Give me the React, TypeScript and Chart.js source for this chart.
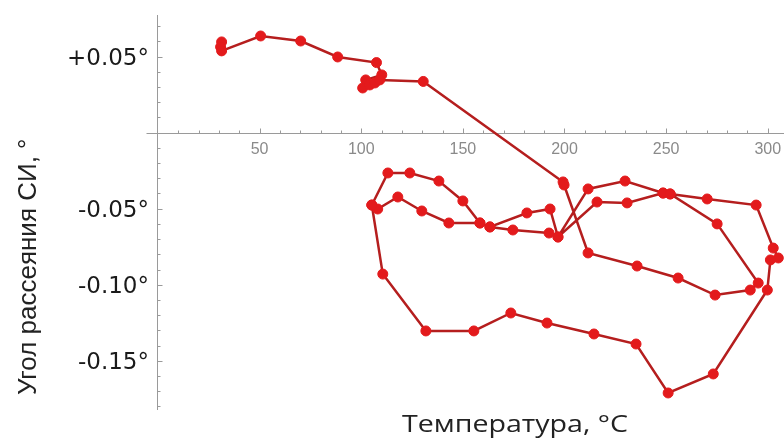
import React, { useEffect, useRef } from 'react';
import { Chart, registerables } from 'chart.js';

Chart.register(...registerables);

// Measurement sequence: temperature (°C) and scattering angle (degrees)
const TEMPERATURE = [
  31.3, 30.8, 31.3, 50.5, 70.2, 88.4, 107.5, 110.1, 102.2, 100.7, 104.2, 106.7, 109.1, 130.5,
  199.3, 199.8, 211.6, 235.7, 255.9, 274.1, 291.4, 295.3, 275.1, 252.0, 248.5, 229.8, 211.6,
  196.8, 192.4, 174.6, 163.3, 158.4, 143.1, 129.8, 118.0, 108.1, 105.2, 113.1, 123.9, 138.2,
  150.0, 158.4, 163.3, 181.5, 192.9, 196.8, 216.0, 230.8, 248.5, 252.0, 270.2, 294.3, 302.7,
  305.2, 301.3, 299.8, 273.2, 251.0, 235.2, 214.5, 191.4, 173.6, 155.4, 131.8, 110.6, 105.2,
];
const ANGLE = [
  0.0597, 0.0564, 0.0538, 0.0636, 0.0603, 0.0498, 0.0461, 0.038, 0.0347, 0.0294, 0.0314, 0.0327, 0.0347, 0.0337,
  -0.0324, -0.0344, -0.0791, -0.0877, -0.0956, -0.1068, -0.1035, -0.0989, -0.06, -0.0403, -0.0397, -0.0318, -0.037,
  -0.0686, -0.066, -0.064, -0.062, -0.0594, -0.0594, -0.0515, -0.0423, -0.0502, -0.0476, -0.0265, -0.0265, -0.0318,
  -0.0449, -0.0594, -0.062, -0.0528, -0.0502, -0.0686, -0.0456, -0.0462, -0.0397, -0.0403, -0.0436, -0.0476, -0.0759,
  -0.0824, -0.0837, -0.1035, -0.1587, -0.1712, -0.139, -0.1324, -0.1252, -0.1186, -0.1304, -0.1304, -0.093, -0.0476,
];

const X_TICKS = [50, 100, 150, 200, 250, 300];
const Y_TICKS = [0.05, -0.05, -0.1, -0.15];
const Y_TICK_LABELS = ['+0.05°', '-0.05°', '-0.10°', '-0.15°'];
const X_MINOR_STEP = 10;
const Y_MINOR_STEP = 0.01;
const X_MIN = 0;
const X_MAX = 308;
const Y_MIN = -0.1824;
const Y_MAX = 0.0774;
const X_TITLE = 'Температура, °C';
const Y_TITLE = 'Угол рассеяния СИ, °';

const AXIS_COLOR = '#9a9a9a';

const axesPlugin = {
  id: 'mathAxes',
  beforeDatasetsDraw(chart: any) {
    const { ctx, chartArea } = chart;
    const xs = chart.scales.x;
    const ys = chart.scales.y;
    const y0 = Math.round(ys.getPixelForValue(0)) + 0.5;
    const x0 = Math.round(xs.getPixelForValue(0)) - 0.5;
    ctx.save();
    ctx.strokeStyle = AXIS_COLOR;
    ctx.lineWidth = 1;
    ctx.beginPath();
    ctx.moveTo(x0 - 11, y0);
    ctx.lineTo(chartArea.right, y0);
    ctx.moveTo(x0, chartArea.top);
    ctx.lineTo(x0, chartArea.bottom);
    for (let k = 1; k * X_MINOR_STEP <= X_MAX; k++) {
      const px = Math.round(xs.getPixelForValue(k * X_MINOR_STEP)) + 0.5;
      const len = k % 5 === 0 ? 5 : 3;
      ctx.moveTo(px, y0);
      ctx.lineTo(px, y0 - len);
    }
    const kMin = Math.ceil(Y_MIN / Y_MINOR_STEP);
    const kMax = Math.floor(Y_MAX / Y_MINOR_STEP);
    for (let k = kMin; k <= kMax; k++) {
      if (k === 0) continue;
      const py = Math.round(ys.getPixelForValue(k * Y_MINOR_STEP)) + 0.5;
      const len = k % 5 === 0 ? 5 : 3;
      ctx.moveTo(x0, py);
      ctx.lineTo(x0 + len, py);
    }
    ctx.stroke();
    ctx.restore();
  },
  afterDraw(chart: any) {
    const { ctx } = chart;
    ctx.save();
    // x title
    ctx.font = '23px "Open Sans"';
    ctx.fillStyle = '#222222';
    ctx.textBaseline = 'alphabetic';
    ctx.textAlign = 'center';
    const w = ctx.measureText(X_TITLE).width;
    const sx = 226 / w;
    ctx.translate(515, 432);
    ctx.scale(sx, 1);
    ctx.fillText(X_TITLE, 0, 0);
    ctx.restore();

    ctx.save();
    ctx.font = '26px "Liberation Sans"';
    ctx.fillStyle = '#222222';
    ctx.textAlign = 'left';
    ctx.textBaseline = 'alphabetic';
    ctx.translate(36, 395);
    ctx.rotate(-Math.PI / 2);
    ctx.fillText(Y_TITLE, 0, 0);
    ctx.restore();
  },
};

export default function App() {
  const canvasRef = useRef<HTMLCanvasElement | null>(null);

  useEffect(() => {
    if (!canvasRef.current) return;
    const points = TEMPERATURE.map((t, i) => ({ x: t, y: ANGLE[i] }));
    const chart = new Chart(canvasRef.current, {
      type: 'line',
      data: {
        datasets: [
          {
            data: points,
            borderColor: '#b51e1e',
            borderWidth: 2.5,
            pointRadius: 5,
            pointBackgroundColor: '#e31a1c',
            pointBorderColor: '#e31a1c',
            pointBorderWidth: 1,
            tension: 0,
            fill: false,
          },
        ],
      },
      options: {
        animation: false,
        responsive: false,
        devicePixelRatio: 1,
        layout: { autoPadding: false, padding: { left: 0, top: 15, right: 0, bottom: 33 } },
        plugins: { legend: { display: false }, tooltip: { enabled: false }, title: { display: false } },
        scales: {
          x: {
            type: 'linear',
            position: { y: 0 } as any,
            min: X_MIN,
            max: X_MAX,
            grid: { display: false, drawTicks: false },
            border: { display: false },
            afterBuildTicks: (s: any) => {
              s.ticks = X_TICKS.map((v) => ({ value: v }));
            },
            afterFit: (s: any) => {
              s.height = 0;
              s.paddingLeft = 0;
              s.paddingRight = 0;
              s.paddingTop = 0;
              s.paddingBottom = 0;
            },
            ticks: {
              autoSkip: false,
              maxRotation: 0,
              padding: 7,
              color: '#8a8a8a',
              font: { family: '"Liberation Sans"', size: 16 },
              callback: (v: any) => String(v),
            },
          },
          y: {
            type: 'linear',
            position: 'left',
            min: Y_MIN,
            max: Y_MAX,
            grid: { display: false, drawTicks: false },
            border: { display: false },
            afterBuildTicks: (s: any) => {
              s.ticks = Y_TICKS.map((v) => ({ value: v }));
            },
            afterFit: (s: any) => {
              s.width = 158;
              s.paddingLeft = 0;
              s.paddingRight = 0;
              s.paddingTop = 0;
              s.paddingBottom = 0;
            },
            ticks: {
              autoSkip: false,
              padding: 9,
              labelOffset: 2,
              color: '#1a1a1a',
              font: { family: '"DejaVu Sans"', size: 23 },
              callback: (v: any) => {
                const i = Y_TICKS.findIndex((t) => Math.abs(t - v) < 1e-9);
                return i >= 0 ? Y_TICK_LABELS[i] : '';
              },
            },
          },
        },
      },
      plugins: [axesPlugin],
    });
    return () => chart.destroy();
  }, []);

  return (
    <div style={{ position: 'absolute', left: 0, top: 0, width: 784, height: 443, background: '#ffffff' }}>
      <canvas ref={canvasRef} width={784} height={443} style={{ display: 'block' }} />
    </div>
  );
}
